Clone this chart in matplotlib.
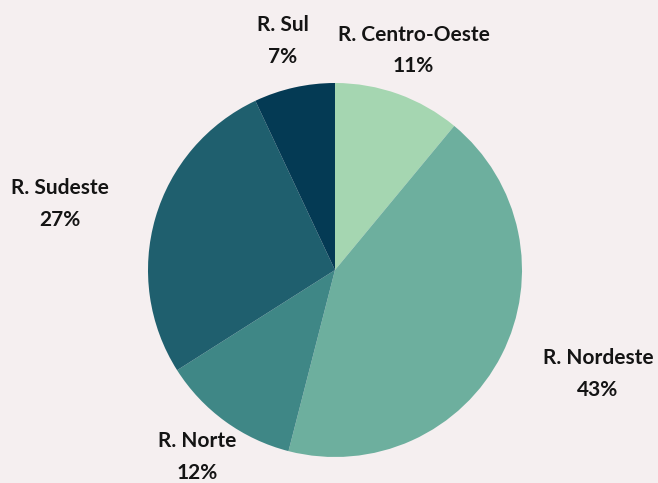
import matplotlib
matplotlib.use("Agg")
import matplotlib.pyplot as plt

regions = ["R. Centro-Oeste", "R. Nordeste", "R. Norte", "R. Sudeste", "R. Sul"]
shares = [11, 43, 12, 27, 7]
colors = ["#a5d6b1", "#6daf9e", "#3f8786", "#1f5f6e", "#043a54"]
# label centers (data coords, pie radius = 1)
label_xy = [(0.42, 1.174), (1.406, -0.556), (-0.738, -1.0), (-1.471, 0.353), (-0.28, 1.225)]

bg = "#f5eff0"
fig = plt.figure(figsize=(6.58, 4.83), dpi=100, facecolor=bg)
ax = fig.add_axes([0, 0, 1, 1])
ax.set_facecolor(bg)

ax.pie(shares, colors=colors, startangle=90, counterclock=False, radius=1.0,
       wedgeprops=dict(linewidth=0))

ax.set_xlim(-335 / 187, (658 - 335) / 187)
ax.set_ylim(-(483 - 270) / 187, 270 / 187)
ax.set_aspect("auto")
ax.axis("off")

font = ["Lato", "DejaVu Sans"]
for name, val, (x, y) in zip(regions, shares, label_xy):
    ax.text(x, y + 0.085, name, ha="center", va="center", fontsize=15,
            fontweight="bold", family=font, color="#141414")
    ax.text(x, y - 0.085, f"{val}%", ha="center", va="center", fontsize=15,
            fontweight="bold", family=font, color="#141414")

fig.savefig("out.png", dpi=100, facecolor=bg)
